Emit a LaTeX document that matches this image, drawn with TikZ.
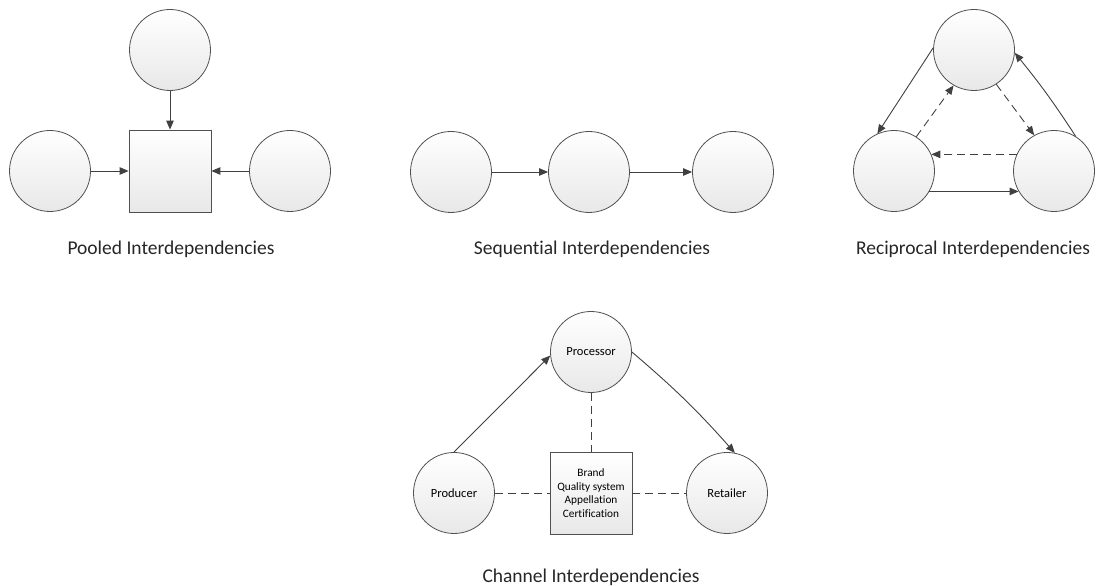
\documentclass[tikz,border=0pt]{standalone}
\usepackage{fontspec}
\setmainfont[Ligatures={NoCommon,NoRequired,NoContextual}]{Carlito}
\usetikzlibrary{arrows.meta}
\definecolor{edge}{HTML}{404040}
\definecolor{rim}{HTML}{505050}
\tikzset{
  circ/.style={circle, draw=rim, line width=0.8pt, minimum size=81pt, inner sep=0pt,
     top color=white, bottom color=black!9, font=\fontsize{12.5}{14}\selectfont},
  sq/.style={rectangle, draw=rim, line width=0.8pt, minimum size=82pt, inner sep=0pt,
     top color=white, bottom color=black!9, align=center, font=\fontsize{11.3}{13.5}\selectfont},
  arr/.style={draw=edge, line width=0.9pt, -{Triangle[length=9pt,width=7.5pt]}},
  dsh/.style={draw=edge, line width=0.9pt, dash pattern=on 8pt off 5pt},
  darr/.style={arr, dash pattern=on 8pt off 5pt},
  lbl/.style={font=\fontsize{19.5}{21}\selectfont, text=black!85}
}
\begin{document}
\begin{tikzpicture}[x=1pt,y=1pt]
\useasboundingbox (0,0) rectangle (1100,586);
% Pooled
\node[circ] (p1) at (170,536) {};
\node[sq] (psq) at (170,415) {};
\node[circ] (pl) at (50,415) {};
\node[circ] (pr) at (290,415) {};
\draw[arr] (p1.south) -- (psq.north);
\draw[arr] (pl.east) -- (psq.west);
\draw[arr] (pr.west) -- (psq.east);
\node[lbl] (lp) at (171,337) {Pooled Interdependencies};
% Sequential
\node[circ] (s1) at (451,414) {};
\node[circ] (s2) at (589,414) {};
\node[circ] (s3) at (733,414) {};
\draw[arr] (s1.east) -- (s2.west);
\draw[arr] (s2.east) -- (s3.west);
\node[lbl] (ls) at (592,337) {Sequential Interdependencies};
% Reciprocal
\node[circ] (rt) at (974,536) {};
\node[circ] (rl) at (894,415) {};
\node[circ] (rr) at (1054,415) {};
\draw[arr] (rt.177) -- (rl.114);
\draw[arr] (rl.-30) -- (rr.-150);
\draw[arr] (rr.58) to[bend right=3] (rt.-4);
\draw[darr] (rl.57) -- (rt.240);
\draw[darr] (rt.303) -- (rr.119);
\draw[darr] (rr.156) -- (rl.24);
\node[lbl] (lr) at (973,337) {Reciprocal Interdependencies};
% Channel
\node[circ] (proc) at (591,234) {Processor};
\node[circ] (prod) at (454,93) {Producer};
\node[circ] (ret) at (727,93) {Retailer};
\node[sq] (box) at (591,93) {Brand\\Quality system\\Appellation\\Certification};
\draw[arr] (prod.north) -- (proc.185);
\draw[arr] (proc.0) to[bend left=4] (ret.79);
\draw[dsh] (proc.south) -- (box.north);
\draw[dsh] (prod.east) -- (box.west);
\draw[dsh] (box.east) -- (ret.west);
\node[lbl] (lc) at (591,9) {Channel Interdependencies};
\end{tikzpicture}
\end{document}
